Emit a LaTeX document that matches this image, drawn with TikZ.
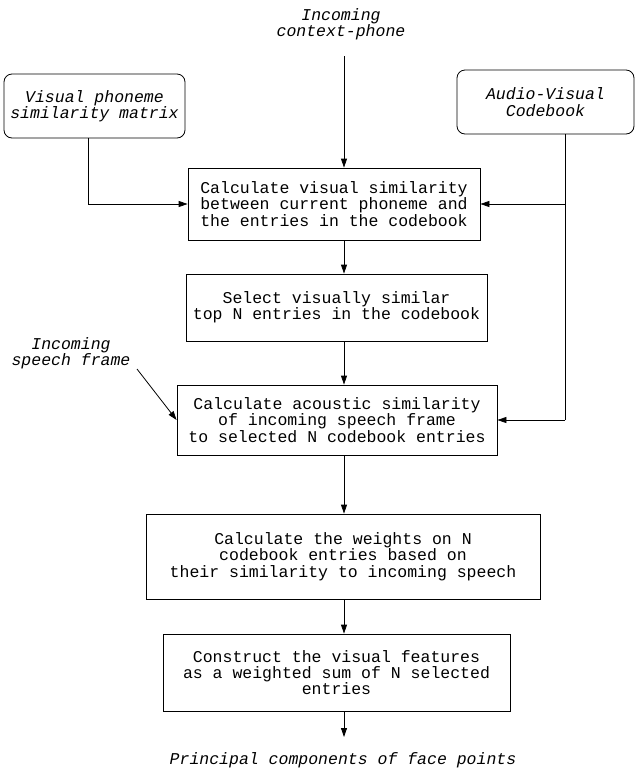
\documentclass[tikz,border=0pt]{standalone}
\usepackage{fontspec}
\setmonofont{Liberation Mono}
\usetikzlibrary{arrows.meta}
\newcommand\boxfont{\ttfamily\fontsize{16.5}{16.3}\selectfont}
\newcommand\labfont{\ttfamily\itshape\fontsize{16.5}{16.3}\selectfont}
\begin{document}
\begin{tikzpicture}[x=1pt,y=-1pt,
  box/.style={draw, line width=0.8pt, align=center, inner sep=0pt, font=\boxfont},
  rbox/.style={box, rounded corners=8pt, font=\labfont},
  lab/.style={align=center, inner sep=0pt, font=\labfont},
  arr/.style={line width=0.8pt, -{Triangle[length=9pt,width=6pt]}},
  ln/.style={line width=0.8pt}]
\useasboundingbox (0,0) rectangle (635,769);

% input nodes
\node[lab] (ctx) at (341,24.5) {Incoming\\context-phone};
\node[rbox, minimum width=181pt, minimum height=64pt] (vpsm) at (94.5,106) {Visual phoneme\\similarity matrix};
\node[rbox, minimum width=177pt, minimum height=64pt] (avc) at (545.5,102) {Audio-Visual\\Codebook};
\node[lab] (speech) at (71,353) {Incoming\\speech frame};

% process boxes
\node[box, minimum width=292pt, minimum height=72pt] (calc) at (334,204)
  {Calculate visual similarity\\between current phoneme and\\the entries in the codebook};
\node[box, minimum width=301pt, minimum height=67pt] (sel) at (336.5,307.5)
  {Select visually similar\\top N entries in the codebook};
\node[box, minimum width=320pt, minimum height=70pt] (acou) at (337,420)
  {Calculate acoustic similarity\\of incoming speech frame\\to selected N codebook entries};
\node[box, minimum width=394pt, minimum height=85pt] (wts) at (343,556.5)
  {Calculate the weights on N\\codebook entries based on\\their similarity to incoming speech};
\node[box, minimum width=347pt, minimum height=77pt] (cons) at (336.5,672.5)
  {Construct the visual features\\as a weighted sum of N selected\\entries};
\node[lab] (out) at (343,760) {Principal components of face points};

% helper coordinates
\coordinate (cx) at (344,0);
\coordinate (ctxend) at (344,56);
\coordinate (vpx) at (88,0);
\coordinate (avx) at (565,0);
\coordinate (spstart) at (137,369);
\coordinate (outtip) at (344,737);

% connectors
\draw[arr] (ctxend) -- (calc.north -| cx);
\draw[arr] (vpsm.south -| vpx) |- (calc.west);
\draw[ln] (avc.south -| avx) -- (avx |- acou.east);
\draw[arr] (avx |- calc.east) -- (calc.east);
\draw[arr] (avx |- acou.east) -- (acou.east);
\draw[arr] (calc.south -| cx) -- (sel.north -| cx);
\draw[arr] (sel.south -| cx) -- (acou.north -| cx);
\draw[arr] (spstart) -- (acou.west);
\draw[arr] (acou.south -| cx) -- (wts.north -| cx);
\draw[arr] (wts.south -| cx) -- (cons.north -| cx);
\draw[arr] (cons.south -| cx) -- (outtip);
\end{tikzpicture}
\end{document}
